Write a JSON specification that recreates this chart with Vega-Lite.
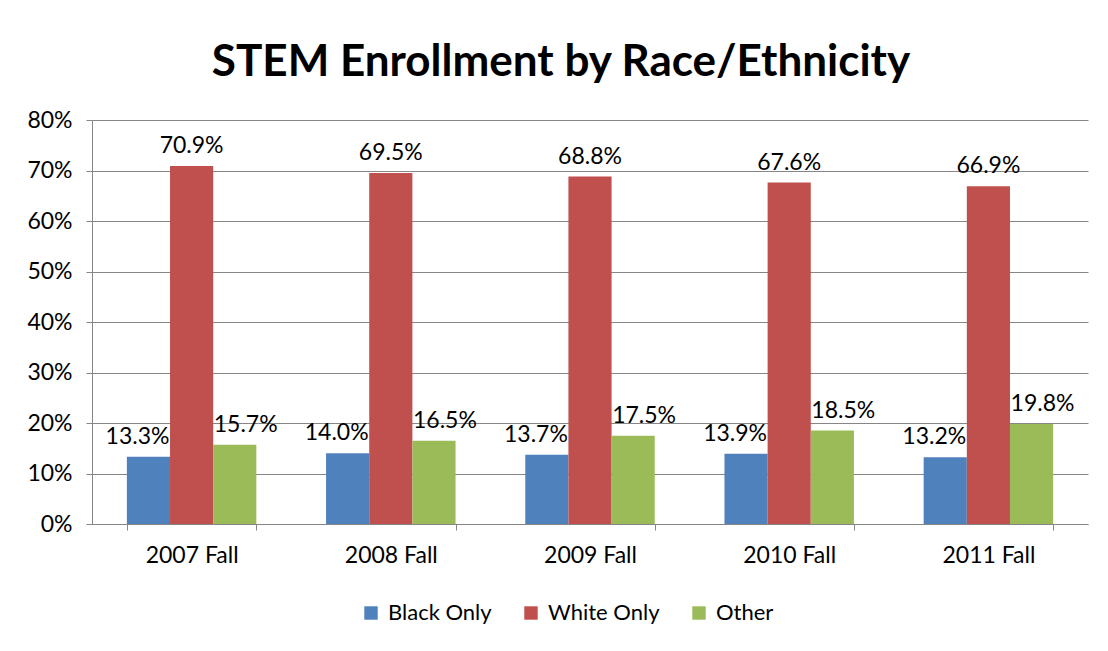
{
  "$schema": "https://vega.github.io/schema/vega-lite/v6.json",
  "width": 996,
  "height": 404,
  "autosize": "none",
  "padding": {"left": 92, "top": 120, "right": 20, "bottom": 127},
  "background": "white",
  "config": {
    "font": "Lato",
    "view": {"stroke": null},
    "axis": {"labelFont": "Lato", "labelFontSize": 23, "labelColor": "#000000", "domainColor": "#868686", "tickColor": "#868686", "gridColor": "#868686", "title": null}
  },
  "title": {
    "text": "STEM Enrollment by Race/Ethnicity",
    "font": "Lato",
    "fontSize": 44,
    "fontWeight": "bold",
    "color": "#000000",
    "anchor": "middle",
    "dx": -29,
    "offset": 24
  },
  "data": {
    "values": [
      {"year": "2007 Fall", "group": "Black Only", "value": 0.133, "label": "13.3%"},
      {"year": "2007 Fall", "group": "White Only", "value": 0.709, "label": "70.9%"},
      {"year": "2007 Fall", "group": "Other", "value": 0.157, "label": "15.7%"},
      {"year": "2008 Fall", "group": "Black Only", "value": 0.140, "label": "14.0%"},
      {"year": "2008 Fall", "group": "White Only", "value": 0.695, "label": "69.5%"},
      {"year": "2008 Fall", "group": "Other", "value": 0.165, "label": "16.5%"},
      {"year": "2009 Fall", "group": "Black Only", "value": 0.137, "label": "13.7%"},
      {"year": "2009 Fall", "group": "White Only", "value": 0.688, "label": "68.8%"},
      {"year": "2009 Fall", "group": "Other", "value": 0.175, "label": "17.5%"},
      {"year": "2010 Fall", "group": "Black Only", "value": 0.139, "label": "13.9%"},
      {"year": "2010 Fall", "group": "White Only", "value": 0.676, "label": "67.6%"},
      {"year": "2010 Fall", "group": "Other", "value": 0.185, "label": "18.5%"},
      {"year": "2011 Fall", "group": "Black Only", "value": 0.132, "label": "13.2%"},
      {"year": "2011 Fall", "group": "White Only", "value": 0.669, "label": "66.9%"},
      {"year": "2011 Fall", "group": "Other", "value": 0.198, "label": "19.8%"}
    ]
  },
  "encoding": {
    "x": {
      "field": "year", "type": "nominal", "sort": null,
      "scale": {"paddingInner": 0.35, "paddingOuter": 0.175},
      "axis": {"labelAngle": 0, "tickBand": "extent", "tickSize": 6, "labelPadding": 14, "domainColor": "#868686"}
    },
    "xOffset": {"field": "group", "type": "nominal", "sort": ["Black Only", "White Only", "Other"]},
    "y": {
      "field": "value", "type": "quantitative",
      "scale": {"domain": [0, 0.8], "nice": false},
      "axis": {"format": ".0%", "values": [0, 0.1, 0.2, 0.3, 0.4, 0.5, 0.6, 0.7, 0.8], "labelOverlap": false, "tickSize": 6, "labelPadding": 14, "grid": true}
    }
  },
  "layer": [
    {
      "mark": {"type": "bar"},
      "encoding": {
        "color": {
          "field": "group", "type": "nominal",
          "sort": ["Black Only", "White Only", "Other"],
          "scale": {"domain": ["Black Only", "White Only", "Other"], "range": ["#4F81BD", "#C0504D", "#9BBB59"]},
          "legend": {
            "title": null, "orient": "none", "direction": "horizontal",
            "legendX": 268, "legendY": 482,
            "symbolType": "square", "symbolSize": 180, "symbolStrokeWidth": 0,
            "labelFont": "Lato", "labelFontSize": 22, "labelColor": "#000000",
            "columnPadding": 28, "labelOffset": 6
          }
        }
      }
    },
    {
      "transform": [{"filter": "datum.group === 'Black Only'"}],
      "mark": {"type": "text", "align": "right", "baseline": "middle", "dx": 21, "dy": -20, "fontSize": 23, "font": "Lato", "color": "#000000"},
      "encoding": {"text": {"field": "label"}}
    },
    {
      "transform": [{"filter": "datum.group === 'White Only'"}],
      "mark": {"type": "text", "align": "center", "baseline": "middle", "dy": -20, "fontSize": 23, "font": "Lato", "color": "#000000"},
      "encoding": {"text": {"field": "label"}}
    },
    {
      "transform": [{"filter": "datum.group === 'Other'"}],
      "mark": {"type": "text", "align": "left", "baseline": "middle", "dx": -21, "dy": -20, "fontSize": 23, "font": "Lato", "color": "#000000"},
      "encoding": {"text": {"field": "label"}}
    }
  ]
}
